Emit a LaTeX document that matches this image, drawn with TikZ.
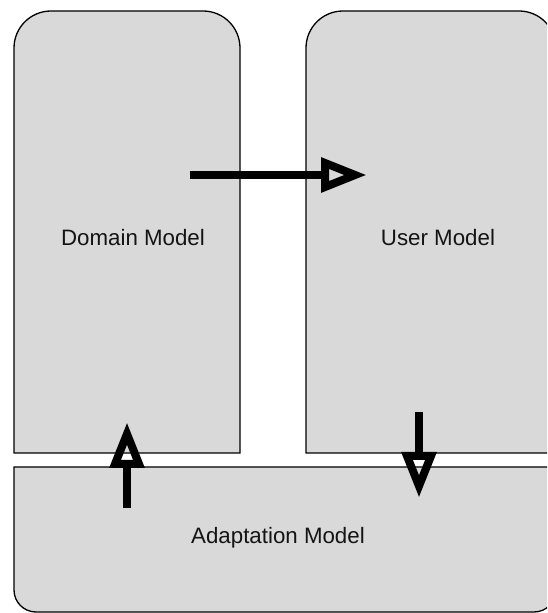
\documentclass[tikz,border=0pt]{standalone}
\usepackage{fontspec}
\setmainfont{Liberation Sans}
\definecolor{boxfill}{RGB}{217,217,217}
\definecolor{labeltext}{RGB}{20,20,20}
\tikzset{
  modelbox/.style={fill=boxfill, draw=black, line width=1.3pt},
  modellabel/.style={anchor=base, inner sep=0pt, text=labeltext,
    font=\fontsize{22.3}{26}\selectfont},
  flow/.style={line width=7.5pt, shorten >=42pt},
  flowhead/.style={draw=black, line width=8pt, line join=miter}
}
% open triangular head, pointing along +x before rotation, tip at the origin
\newcommand{\openhead}[2]{%
  \draw[flowhead, shift={(#1)}, rotate=#2]
    (-42,12) -- (-12,0) -- (-42,-12) -- cycle;}
\begin{document}
\begin{tikzpicture}[x=1pt, y=1pt]
  \useasboundingbox (0,0) rectangle (547,613);
  \clip (0,0) rectangle (547,613);

  % domain model: rounded at the top only
  \path[modelbox] (14,160) -- (14,565)
    arc[start angle=180, end angle=90, radius=37] -- (203,602)
    arc[start angle=90, end angle=0, radius=37] -- (240,160) -- cycle;
  % user model
  \path[modelbox] (306,160) -- (306,565)
    arc[start angle=180, end angle=90, radius=37] -- (519,602)
    arc[start angle=90, end angle=0, radius=37] -- (556,160) -- cycle;
  % adaptation model: rounded at the bottom
  \path[modelbox] (14,146) -- (14,23)
    arc[start angle=180, end angle=270, radius=22] -- (534,1)
    arc[start angle=270, end angle=360, radius=22] -- (556,146) -- cycle;

  \node[modellabel] (dm) at (133,367) {Domain Model};
  \node[modellabel] (um) at (438,367) {User Model};
  \node[modellabel] (am) at (278,69) {Adaptation Model};

  \coordinate (dmout) at (190,438);
  \coordinate (umin)  at (367,438);
  \coordinate (amout) at (127,105);
  \coordinate (dmin)  at (127,191);
  \coordinate (umout) at (419,201);
  \coordinate (amin)  at (419,115);

  % domain -> user
  \draw[flow] (dmout) -- (umin);
  \openhead{umin}{0}
  % adaptation -> domain
  \draw[flow] (amout) -- (dmin);
  \openhead{dmin}{90}
  % user -> adaptation
  \draw[flow] (umout) -- (amin);
  \openhead{amin}{-90}
\end{tikzpicture}
\end{document}
